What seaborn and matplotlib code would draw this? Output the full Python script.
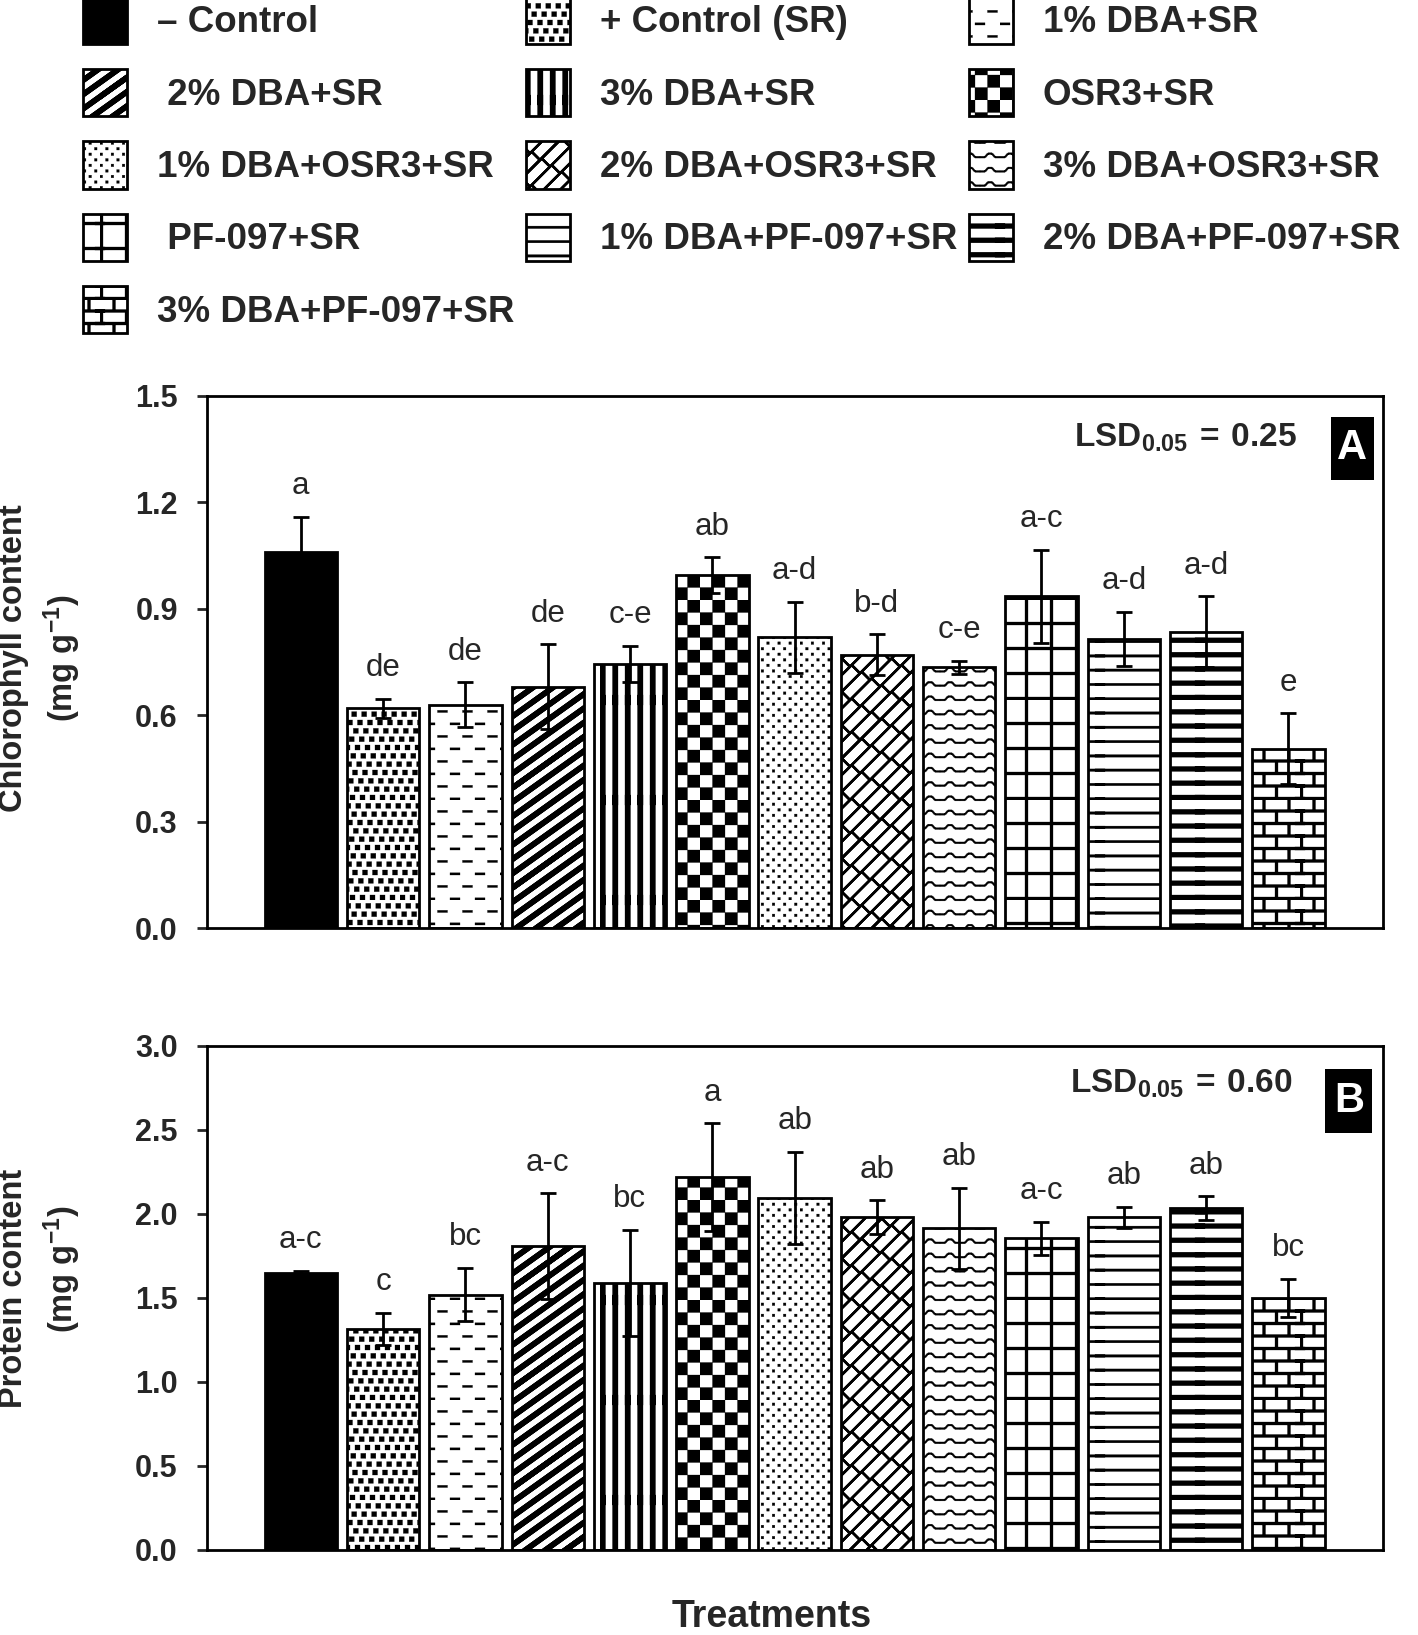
import numpy as np
import pandas as pd
import matplotlib
matplotlib.use("Agg")
import matplotlib.pyplot as plt
import matplotlib.patches as mpatches
import matplotlib.hatch as mhatch
from matplotlib.path import Path
from matplotlib.ticker import FormatStrFormatter
import seaborn as sns

# ---- data ----
treatments = ["– Control", "+ Control (SR)", "1% DBA+SR", " 2% DBA+SR", "3% DBA+SR",
              "OSR3+SR", "1% DBA+OSR3+SR", "2% DBA+OSR3+SR", "3% DBA+OSR3+SR",
              " PF-097+SR", "1% DBA+PF-097+SR", "2% DBA+PF-097+SR", "3% DBA+PF-097+SR"]

chlorophyll = [1.06, 0.62, 0.63, 0.68, 0.745, 0.995, 0.82, 0.77, 0.735, 0.935, 0.815, 0.835, 0.505]
chlorophyll_err = [0.10, 0.027, 0.063, 0.12, 0.05, 0.05, 0.10, 0.058, 0.019, 0.132, 0.077, 0.10, 0.10]
chlorophyll_letters = ["a", "de", "de", "de", "c-e", "ab", "a-d", "b-d", "c-e", "a-c", "a-d", "a-d", "e"]

protein = [1.65, 1.315, 1.52, 1.81, 1.59, 2.22, 2.095, 1.98, 1.915, 1.855, 1.98, 2.035, 1.50]
protein_err = [0.013, 0.096, 0.16, 0.314, 0.316, 0.32, 0.275, 0.10, 0.24, 0.097, 0.061, 0.07, 0.113]
protein_letters = ["a-c", "c", "bc", "a-c", "bc", "a", "ab", "ab", "ab", "a-c", "ab", "ab", "bc"]

lsd_values = [0.25, 0.60]
bar_colors = ["black"] + ["white"] * 12
pattern_names = [None, "squares", "dashes", "diagonal", "vertical", "checker", "dots",
                 "lattice", "waves", "grid", "lines", "bands", "bricks"]


# ---- fill patterns (SigmaPlot-like), drawn as filled shapes in one hatch tile ----
def rect(x, y, w, h):
    return [(x, y), (x + w, y), (x + w, y + h), (x, y + h)]


def band(x0, y0, x1, y1, t):
    dx, dy = x1 - x0, y1 - y0
    n = np.hypot(dx, dy)
    ox, oy = -dy / n * t / 2, dx / n * t / 2
    return [(x0 - ox, y0 - oy), (x1 - ox, y1 - oy), (x1 + ox, y1 + oy), (x0 + ox, y0 + oy)]


def squares():
    return [rect((c * 0.1 + r * 5 / 120) % 1, r / 12, 0.05, 0.05) for r in range(12) for c in range(10)]


def dashes():
    return [rect(c * 0.25 + (r % 2) * 0.125, r / 8, 0.1, 0.022) for r in range(8) for c in range(4)]


def diagonal():
    s, t = 5 / 7, 0.065
    return [[(0, k / 7), (1, k / 7 + s), (1, k / 7 + s + t), (0, k / 7 + t)] for k in range(-7, 8)]


def vertical():
    return [rect(c / 8, -0.05, 0.055, 1.1) for c in range(8)]


def checker():
    return [rect(i / 8, j / 8, 1 / 8, 1 / 8) for i in range(8) for j in range(8) if (i + j) % 2 == 0]


def dots():
    return [rect(c / 9 + (r % 2) / 18, r / 18, 0.026, 0.026) for r in range(18) for c in range(9)]


def lattice():
    p, L, t = 1 / 6, 1 / 5, 0.022
    polys = [band(0, k * p, 1, 1 + k * p, t) for k in range(-6, 7)]
    for k in range(-6, 6):
        for m in range(5):
            x0 = m * L + (k % 2) * L / 2
            y0 = x0 + k * p
            polys.append(band(x0, y0, x0 - p / 2, y0 + p / 2, t))
    return polys


def waves():
    shape = [(0, 0), (0.05, 0), (0.08, 0.035), (0.12, 0.035), (0.15, 0), (0.2, 0)]
    polys = []
    for r in range(7):
        for c in range(5):
            pts = [(c * 0.2 + x, r / 7 + y) for x, y in shape]
            polys += [band(a[0], a[1], b[0], b[1], 0.018) for a, b in zip(pts[:-1], pts[1:])]
    return polys


def grid():
    polys = [rect(-0.05, r / 4, 1.1, 0.03) for r in range(4)]
    polys += [rect(c / 4, r / 4 + 0.03, 0.03, 0.22) for c in range(4) for r in range(4)]
    return polys


def lines():
    return [rect(-0.05, r / 7, 1.1, 0.025) for r in range(7)]


def bands():
    return [rect(-0.05, r / 7, 1.1, 0.05) for r in range(7)]


def bricks():
    polys = [rect(-0.05, r / 8, 1.1, 0.03) for r in range(8)]
    polys += [rect(c / 4 + (r % 2) / 8, r / 8 + 0.03, 0.03, 0.095) for c in range(4) for r in range(8)]
    return polys


def tile_path(polys):
    verts, codes = [], []
    for poly in polys:
        for sx in (-1, 0, 1):
            for sy in (-1, 0, 1):
                pts = [(x + sx, y + sy) for x, y in poly]
                xs = [q[0] for q in pts]
                ys = [q[1] for q in pts]
                if max(xs) <= 0 or min(xs) >= 1 or max(ys) <= 0 or min(ys) >= 1:
                    continue
                verts += pts + [pts[0]]
                codes += [Path.MOVETO] + [Path.LINETO] * (len(pts) - 1) + [Path.CLOSEPOLY]
    return Path(np.array(verts, dtype=float), np.array(codes, dtype=Path.code_type))


builders = {"squares": squares, "dashes": dashes, "diagonal": diagonal, "vertical": vertical,
            "checker": checker, "dots": dots, "lattice": lattice, "waves": waves,
            "grid": grid, "lines": lines, "bands": bands, "bricks": bricks}

# hatch keys only use valid hatch characters; the tile is swapped in below
hatch_keys = [None if n is None else "*" * (i + 1) for i, n in enumerate(pattern_names)]
custom_tiles = {k: tile_path(builders[n]()) for k, n in zip(hatch_keys, pattern_names) if n}

_default_get_path = mhatch.get_path


def _get_path(hatchpattern, density=6):
    if hatchpattern in custom_tiles:
        return custom_tiles[hatchpattern]
    return _default_get_path(hatchpattern, density)


mhatch.get_path = _get_path

# ---- style ----
sns.set_style("ticks")
plt.rcParams["font.family"] = ["Liberation Sans", "DejaVu Sans"]
plt.rcParams["mathtext.fontset"] = "custom"
plt.rcParams["mathtext.rm"] = "Liberation Sans"
plt.rcParams["mathtext.bf"] = "Liberation Sans:bold"
plt.rcParams["mathtext.default"] = "bf"
plt.rcParams["hatch.linewidth"] = 0.2
plt.rcParams["hatch.color"] = "black"

fig = plt.figure(figsize=(14.18, 16.35), dpi=100)
ax_a = fig.add_axes([0.146, 0.4324, 0.8293, 0.3254])
ax_b = fig.add_axes([0.146, 0.052, 0.8293, 0.3083])

panels = [
    (ax_a, chlorophyll, chlorophyll_err, chlorophyll_letters, 1.5, 0.3, "Chlorophyll content",
     (658, 658), lsd_values[0], "A", (0.956, 0.842, 0.036, 0.119), 0.927, 0.921),
    (ax_b, protein, protein_err, protein_letters, 3.0, 0.5, "Protein content",
     (1288, 1269), lsd_values[1], "B", (0.951, 0.827, 0.040, 0.127), 0.923, 0.925),
]

for ax, vals, errs, letters, ymax, step, ylab, ylab_y, lsd, tag, box, lsd_x, lsd_y in panels:
    df = pd.DataFrame({"treatment": treatments, "value": vals})
    sns.barplot(data=df, x="treatment", y="value", hue="treatment", order=treatments,
                hue_order=treatments, palette=bar_colors, saturation=1, legend=False,
                errorbar=None, width=0.88, edgecolor="black", linewidth=2, ax=ax)
    bars = sorted(ax.patches, key=lambda p: p.get_x())
    for bar, key in zip(bars, hatch_keys):
        if key:
            bar.set_hatch(key)

    x = np.arange(len(treatments))
    ax.errorbar(x, vals, yerr=errs, fmt="none", ecolor="black", elinewidth=2,
                capsize=6, capthick=2, zorder=3)
    for xi, v, e, lab in zip(x, vals, errs, letters):
        ax.annotate(lab, (xi, v + e), xytext=(0, 22), textcoords="offset points",
                    ha="center", va="center", fontsize=22.5)

    ax.set_xlim(-1.14, len(treatments) - 1 + 1.15)
    ax.set_ylim(0, ymax)
    ax.set_yticks(np.arange(0, ymax + step / 2, step))
    ax.yaxis.set_major_formatter(FormatStrFormatter("%.1f"))
    ax.tick_params(axis="y", direction="out", length=7, width=2, pad=14, labelsize=22)
    ax.tick_params(axis="x", bottom=False, labelbottom=False)
    plt.setp(ax.get_yticklabels(), fontweight="bold")
    ax.set_xlabel("")
    ax.set_ylabel("")
    for sp in ax.spines.values():
        sp.set_linewidth(2)
        sp.set_color("black")

    ax.text(lsd_x, lsd_y, r"$\mathbf{LSD_{0.05}\,=\,%.2f}$" % lsd, transform=ax.transAxes,
            ha="right", va="center", fontsize=24)
    ax.add_patch(mpatches.Rectangle(box[:2], box[2], box[3], transform=ax.transAxes,
                                    facecolor="black", edgecolor="none", zorder=5))
    ax.text(box[0] + box[2] / 2, box[1] + box[3] / 2, tag, transform=ax.transAxes,
            color="white", fontweight="bold", fontsize=30, ha="center", va="center", zorder=6)

    fig.text(14 / 1418, 1 - ylab_y[0] / 1635, ylab, rotation=90, ha="center", va="center",
             fontsize=23.5, fontweight="bold")
    fig.text(62.5 / 1418, 1 - ylab_y[1] / 1635, r"(mg g$^{-1}$)", rotation=90, ha="center",
             va="center", fontsize=23.5, fontweight="bold")

fig.text(0.544, 0.0, "Treatments", ha="center", va="bottom", fontsize=27, fontweight="bold")

# legend, filled row by row as in the original
handles = [mpatches.Patch(facecolor=c, edgecolor="black", linewidth=2, hatch=k)
           for c, k in zip(bar_colors, hatch_keys)]
order = [0, 3, 6, 9, 12, 1, 4, 7, 10, 2, 5, 8, 11]
fig.legend([handles[i] for i in order], [treatments[i] for i in order], ncol=3,
           loc="upper left", bbox_to_anchor=(0.0585, 1.002), frameon=False,
           prop={"weight": "bold", "size": 26.5}, handlelength=1.2, handleheight=1.6,
           handletextpad=0.8, columnspacing=0.33, labelspacing=0.68,
           borderpad=0, borderaxespad=0)

fig.savefig("out.png", dpi=100)
